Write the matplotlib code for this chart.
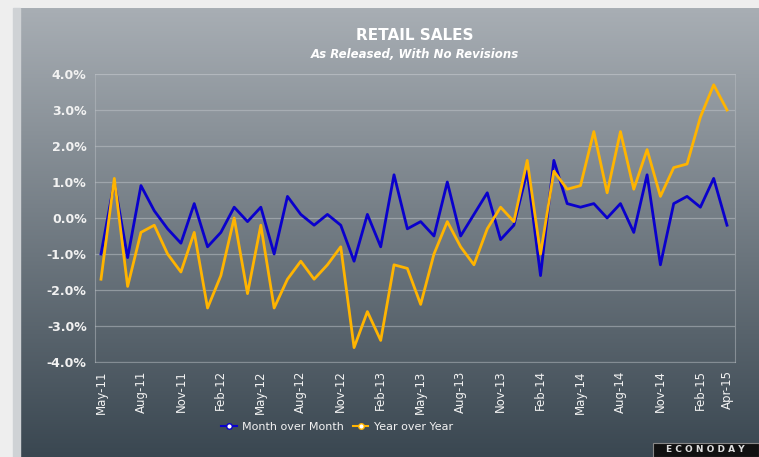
import numpy as np
import matplotlib
matplotlib.use("Agg")
from matplotlib import pyplot as plt
from matplotlib.lines import Line2D

months = ['May-11', 'Jun-11', 'Jul-11', 'Aug-11', 'Sep-11', 'Oct-11', 'Nov-11', 'Dec-11',
          'Jan-12', 'Feb-12', 'Mar-12', 'Apr-12', 'May-12', 'Jun-12', 'Jul-12', 'Aug-12',
          'Sep-12', 'Oct-12', 'Nov-12', 'Dec-12', 'Jan-13', 'Feb-13', 'Mar-13', 'Apr-13',
          'May-13', 'Jun-13', 'Jul-13', 'Aug-13', 'Sep-13', 'Oct-13', 'Nov-13', 'Dec-13',
          'Jan-14', 'Feb-14', 'Mar-14', 'Apr-14', 'May-14', 'Jun-14', 'Jul-14', 'Aug-14',
          'Sep-14', 'Oct-14', 'Nov-14', 'Dec-14', 'Jan-15', 'Feb-15', 'Mar-15', 'Apr-15']

mom = [-1.0, 1.0, -1.1, 0.9, 0.2, -0.3, -0.7, 0.4, -0.8, -0.4, 0.3, -0.1,
       0.3, -1.0, 0.6, 0.1, -0.2, 0.1, -0.2, -1.2, 0.1, -0.8, 1.2, -0.3,
       -0.1, -0.5, 1.0, -0.5, 0.1, 0.7, -0.6, -0.2, 1.3, -1.6, 1.6, 0.4,
       0.3, 0.4, 0.0, 0.4, -0.4, 1.2, -1.3, 0.4, 0.6, 0.3, 1.1, -0.2]

yoy = [-1.7, 1.1, -1.9, -0.4, -0.2, -1.0, -1.5, -0.4, -2.5, -1.6, 0.0, -2.1,
       -0.2, -2.5, -1.7, -1.2, -1.7, -1.3, -0.8, -3.6, -2.6, -3.4, -1.3, -1.4,
       -2.4, -1.0, -0.1, -0.8, -1.3, -0.3, 0.3, -0.1, 1.6, -1.0, 1.3, 0.8,
       0.9, 2.4, 0.7, 2.4, 0.8, 1.9, 0.6, 1.4, 1.5, 2.8, 3.7, 3.0]

tick_labels = ['May-11', 'Aug-11', 'Nov-11', 'Feb-12', 'May-12', 'Aug-12', 'Nov-12', 'Feb-13',
               'May-13', 'Aug-13', 'Nov-13', 'Feb-14', 'May-14', 'Aug-14', 'Nov-14', 'Feb-15',
               'Apr-15']

W, H = 759, 457
fig = plt.figure(figsize=(W / 100, H / 100), dpi=100)
fig.patch.set_facecolor('#eeeeee')

# gradient panel behind everything
bg = fig.add_axes([14 / W, 0, 1 - 14 / W, 1 - 8 / H])
grad = np.linspace(0, 1, 256).reshape(-1, 1)
top = np.array([0xa8, 0xae, 0xb4]) / 255
bot = np.array([0x3a, 0x47, 0x51]) / 255
img = top + (bot - top) * grad[:, :, None]
bg.imshow(img, aspect='auto', extent=[0, 1, 0, 1])
bg.set_axis_off()
fig.add_artist(plt.Rectangle((13 / W, 0), 7 / W, 1 - 8 / H, transform=fig.transFigure,
                             color='#cfd2d5', zorder=0.5))

x = np.arange(len(months))
ax = fig.add_axes([95 / W, 1 - 362 / H, (735 - 95) / W, (362 - 74) / H])
ax.patch.set_alpha(0)
ax.plot(x, mom, color='#0a00cc', lw=2.0, zorder=3)
ax.plot(x, yoy, color='#ffb400', lw=2.0, zorder=4)
ax.set_xlim(-0.45, len(months) - 1 + 0.6)
ax.set_ylim(-4, 4)
yt = np.arange(-4, 4.1, 1)
ax.set_yticks(yt)
ax.set_yticklabels([f'{v:.1f}%' for v in yt], color='#f2f2f2', fontsize=9, fontweight='bold')
ax.grid(axis='y', color='#c0c5ca', lw=0.9, alpha=0.5)
ax.set_xticks([months.index(m) for m in tick_labels])
ax.set_xticklabels(tick_labels, rotation=90, color='#f2f2f2', fontsize=8.5)
ax.tick_params(length=0, pad=6)
for s in ax.spines.values():
    s.set_color('#b9bec3')
    s.set_linewidth(0.8)
    s.set_alpha(0.5)

fig.text(415 / W, 1 - 36 / H, 'RETAIL SALES', ha='center', va='center', color='white',
         fontsize=11, fontweight='bold')
fig.text(415 / W, 1 - 54 / H, 'As Released, With No Revisions', ha='center', va='center',
         color='white', fontsize=8.5, fontweight='bold', style='italic')

handles = [Line2D([], [], color='#0a00cc', lw=1.5, marker='o', ms=4, mfc='white', mec='#0a00cc'),
           Line2D([], [], color='#ffb400', lw=1.5, marker='o', ms=4, mfc='white', mec='#ffb400')]
fig.legend(handles, ['Month over Month', 'Year over Year'], loc='center',
           bbox_to_anchor=(337 / W, 1 - 427 / H), ncol=2, frameon=False,
           labelcolor='#f2f2f2', fontsize=8, handlelength=1.4, columnspacing=0.8,
           handletextpad=0.5)

# logo box
fig.add_artist(plt.Rectangle((653 / W, 0), 106 / W, 14 / H, transform=fig.transFigure,
                             facecolor='#111111', edgecolor='#888888', lw=0.8))
fig.text(705 / W, 7 / H, 'E C O N O D A Y', ha='center', va='center', color='#dddddd',
         fontsize=6.5, fontweight='bold')

fig.savefig('out.png', dpi=100, facecolor=fig.get_facecolor())
